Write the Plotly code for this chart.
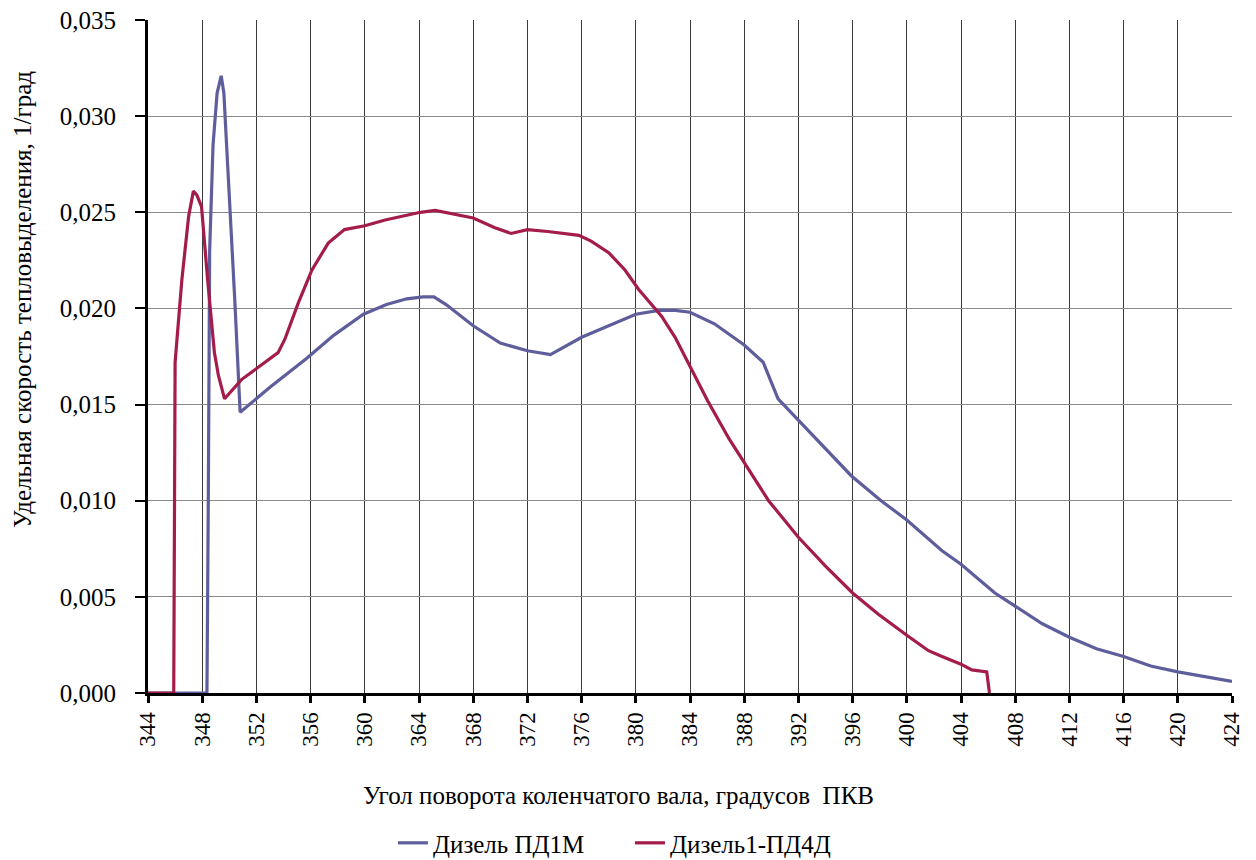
import plotly.graph_objects as go

# Crank angle (degrees) and specific heat release rate (1/deg) for each engine
angle_pd1m = [344, 348.35, 348.45, 348.55, 348.8, 349.1, 349.4, 349.6, 349.8, 350.0,
              350.4, 350.8, 353.0, 355.7, 357.7, 359.9, 361.6, 363.1, 364.3, 365.1,
              366.0, 368.0, 370.0, 372.0, 373.7, 376.0, 378.0, 380.0, 381.7, 382.9,
              384.0, 385.8, 388.0, 389.4, 390.5, 392.0, 393.7, 395.9, 398.1, 400.0,
              402.6, 404.0, 406.5, 408.0, 410.0, 412.0, 414.0, 416.0, 418.0, 420.0,
              422.0, 424.0]
rate_pd1m = [0, 0, 0.0100, 0.0230, 0.0285, 0.0312, 0.0321, 0.0312, 0.0285, 0.0260,
             0.0205, 0.0146, 0.0159, 0.0174, 0.0186, 0.0197, 0.0202, 0.0205, 0.0206, 0.0206,
             0.0202, 0.0191, 0.0182, 0.0178, 0.0176, 0.0185, 0.0191, 0.0197, 0.0199, 0.0199,
             0.0198, 0.0192, 0.0181, 0.0172, 0.0153, 0.0142, 0.0129, 0.0113, 0.0100, 0.0090,
             0.0074, 0.0067, 0.0052, 0.0045, 0.0036, 0.0029, 0.0023, 0.0019, 0.0014, 0.0011,
             0.00085, 0.0006]

angle_pd4d = [344, 345.9, 346.0, 346.5, 347.0, 347.35, 347.6, 347.95, 348.4, 348.9,
              349.2, 349.65, 350.9, 352.3, 353.6, 354.1, 355.1, 356.1, 357.3, 358.5,
              360.0, 361.5, 362.7, 364.1, 365.2, 366.6, 368.0, 369.6, 370.8, 372.0,
              373.5, 375.8, 376.7, 378.0, 379.2, 380.2, 381.2, 381.9, 382.9, 384.0,
              385.3, 386.9, 387.9, 389.8, 392.0, 394.0, 396.0, 397.9, 400.0, 401.6,
              402.6, 404.0, 404.8, 405.9, 406.1]
rate_pd4d = [0, 0, 0.0172, 0.0215, 0.0248, 0.0261, 0.0259, 0.0253, 0.0215, 0.0177,
             0.0165, 0.0153, 0.0163, 0.0170, 0.0177, 0.0184, 0.0203, 0.0220, 0.0234, 0.0241,
             0.0243, 0.0246, 0.0248, 0.0250, 0.0251, 0.0249, 0.0247, 0.0242, 0.0239, 0.0241,
             0.0240, 0.0238, 0.0235, 0.0229, 0.0220, 0.0210, 0.0202, 0.0196, 0.0185, 0.0170,
             0.0152, 0.0132, 0.0121, 0.0100, 0.0081, 0.0066, 0.0052, 0.0041, 0.0030, 0.0022,
             0.0019, 0.0015, 0.0012, 0.0011, 0]

series_names = ["Дизель ПД1М", "Дизель1-ПД4Д"]
x_title = "Угол поворота коленчатого вала, градусов  ПКВ"
y_title = "Удельная скорость тепловыделения, 1/град"

FONT = "Liberation Serif"

fig = go.Figure()
fig.add_trace(go.Scatter(x=angle_pd1m, y=rate_pd1m, mode="lines", name=series_names[0],
                         line=dict(color="#5E5E9C", width=3.2)))
fig.add_trace(go.Scatter(x=angle_pd4d, y=rate_pd4d, mode="lines", name=series_names[1],
                         line=dict(color="#A31C4B", width=3.2)))

fig.update_layout(
    width=1256, height=860,
    margin=dict(l=148, r=24, t=20, b=167, autoexpand=False),
    paper_bgcolor="white", plot_bgcolor="white",
    separators=", ",
    font=dict(family=FONT, color="black", size=22),
    showlegend=True,
    legend=dict(orientation="h", x=0.4446, xanchor="center", y=-0.223, yanchor="middle",
                font=dict(family=FONT, size=25), itemwidth=30, tracegroupgap=0,
                entrywidth=192, entrywidthmode="pixels"),
    xaxis=dict(range=[344, 424], tick0=344, dtick=4, tickangle=-90,
               showgrid=True, gridcolor="#3a3a3a", gridwidth=1,
               showline=True, linecolor="black", linewidth=3,
               ticks="outside", ticklen=7, tickwidth=3, tickcolor="black",
               tickfont=dict(family=FONT, size=23), zeroline=False,
               layer="below traces"),
    yaxis=dict(range=[0, 0.035], tick0=0, dtick=0.005, tickformat=".3f",
               showgrid=True, gridcolor="#8a8a8a", gridwidth=1,
               showline=True, linecolor="black", linewidth=3,
               ticks="outside", ticklen=10, tickwidth=2, tickcolor="black",
               tickfont=dict(family=FONT, size=25), zeroline=False,
               ticklabelstandoff=14, layer="below traces"),
    annotations=[
        dict(text=x_title, xref="paper", yref="paper",
             x=0.4345, y=(693 - 796) / 673, xanchor="center", yanchor="middle",
             showarrow=False, font=dict(family=FONT, size=25)),
        dict(text=y_title, xref="paper", yref="paper",
             x=(22 - 148) / 1084, y=(693 - 300) / 673, xanchor="center", yanchor="middle",
             textangle=-90, showarrow=False, font=dict(family=FONT, size=25)),
    ],
)

fig.write_html("out.html")
